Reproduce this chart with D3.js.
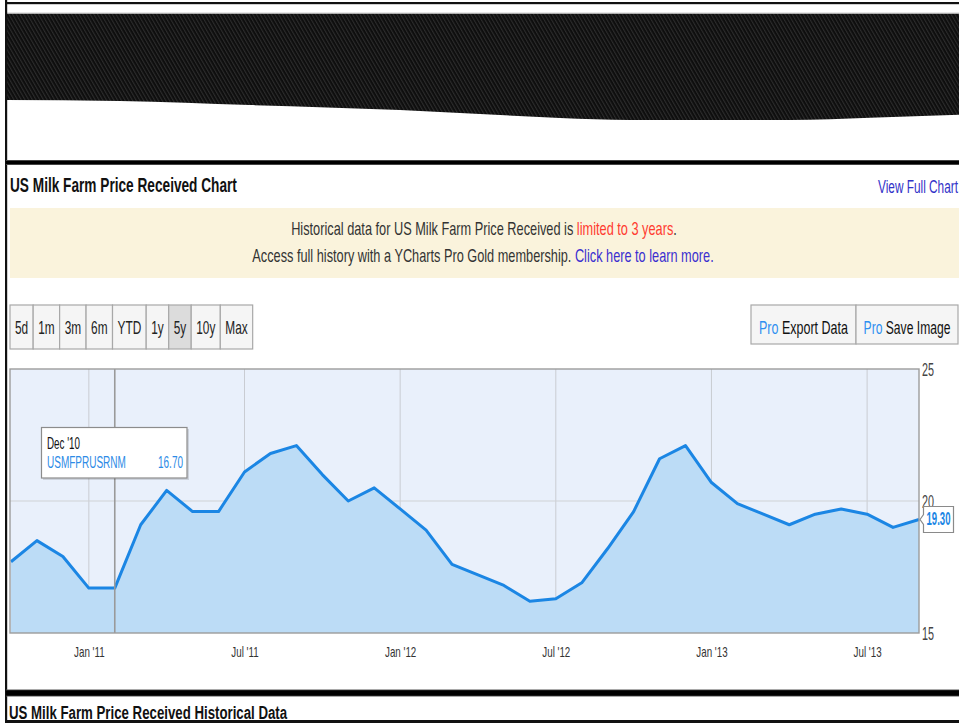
<!DOCTYPE html>
<html>
<head>
<meta charset="utf-8">
<title>US Milk Farm Price Received Chart</title>
<script src="https://cdn.jsdelivr.net/npm/d3@7"></script>
<style>
  html, body { margin: 0; padding: 0; background: #fff; }
  svg { display: block; font-family: "Liberation Sans", Arial, sans-serif; }
</style>
</head>
<body>
<svg id="page" width="959" height="723"></svg>
<script>
// ---- data ----
const months = d3.timeMonth.range(new Date(2010, 9, 1), new Date(2013, 9, 1)); // Oct 2010 .. Sep 2013
const milkPrice = [17.7, 18.5, 17.9, 16.7, 16.7, 19.1, 20.4, 19.6, 19.6, 21.1, 21.8, 22.1,
                   21.0, 20.0, 20.5, 19.7, 18.9, 17.6, 17.2, 16.8, 16.2, 16.3, 16.9, 18.2,
                   19.6, 21.6, 22.1, 20.7, 19.9, 19.5, 19.1, 19.5, 19.7, 19.5, 19.0, 19.3];
const tickLabels = ["Jan '11", "Jul '11", "Jan '12", "Jul '12", "Jan '13", "Jul '13"];
const yTicks = [15, 20, 25];
const rangeButtons = ["5d", "1m", "3m", "6m", "YTD", "1y", "5y", "10y", "Max"];
const activeRange = "5y";
const seriesCode = "USMFPRUSRNM";
const hoverIndex = 4;
const hoverLabel = "Dec '10";

const svg = d3.select("#page");
const SX = 0.65; // horizontal squeeze of the condensed page typography

// Text helper: parts = [[string, colour], ...]; squeezed horizontally by k or to a target width
function label(parent, x, y, parts, o = {}) {
  const t = parent.append("text")
    .attr("font-size", o.size || 16)
    .attr("font-weight", o.weight || "normal")
    .attr("text-anchor", o.anchor || "start");
  parts.forEach(([s, c]) => t.append("tspan").attr("fill", c).text(s));
  const len = t.node().getComputedTextLength();
  const k = o.width ? o.width / len : (o.k || SX);
  t.attr("transform", `translate(${x},${y}) scale(${k},1)`);
  t.k = k;
  t.w = len * k;
  return t;
}

// ---- page frame ----
const defs = svg.append("defs");
const hatch = defs.append("pattern")
  .attr("id", "hatch").attr("patternUnits", "userSpaceOnUse")
  .attr("width", 3.2).attr("height", 3.2)
  .attr("patternTransform", "rotate(-30)");
hatch.append("rect").attr("width", 3.2).attr("height", 3.2).attr("fill", "#0e0e0e");
hatch.append("rect").attr("width", 1.1).attr("height", 3.2).attr("fill", "#2c2c2c");

// dark hatched masthead with a curved lower edge
const waveEdge = [[6, 100], [120, 101], [250, 105], [400, 110], [480, 114], [560, 118],
                  [630, 120], [790, 120], [870, 117.7], [959, 114.7]];
const waveLine = d3.line().curve(d3.curveMonotoneX);
const waveD = "M959,13.5 L6,13.5 L" + waveLine(waveEdge).slice(1) + " Z";
svg.append("path").attr("d", waveD).attr("fill", "url(#hatch)");
svg.append("line").attr("x1", 6).attr("x2", 959).attr("y1", 13).attr("y2", 13)
  .attr("stroke", "#cfcfcf").attr("stroke-width", 1);

svg.append("rect").attr("x", 5).attr("y", 2).attr("width", 954).attr("height", 2.2).attr("fill", "#111");
svg.append("rect").attr("x", 5).attr("y", 0).attr("width", 2.2).attr("height", 723).attr("fill", "#111");
svg.append("rect").attr("x", 6).attr("y", 160).attr("width", 953).attr("height", 5).attr("fill", "#555");
svg.append("rect").attr("x", 6).attr("y", 160.8).attr("width", 953).attr("height", 3.4).attr("fill", "#000");

// ---- header ----
const head = svg.append("g");
const titleText = label(head, 10, 192, [["US Milk Farm Price Received Chart", "#111"]],
  { size: 19.5, weight: "bold", width: 227 });
label(head, 958, 193, [["View Full Chart", "#3232c8"]], { size: 18.5, anchor: "end", width: 80 });

// notice banner
head.append("rect").attr("x", 10).attr("y", 208).attr("width", 949).attr("height", 70).attr("fill", "#faf3dc");
label(head, 484, 234.5, [
  ["Historical data for US Milk Farm Price Received is ", "#333"],
  ["limited to 3 years", "#ff3b30"],
  [".", "#333"]
], { size: 18, anchor: "middle", width: 386 });
label(head, 483, 262, [
  ["Access full history with a YCharts Pro Gold membership. ", "#333"],
  ["Click here to learn more.", "#3a2fd0"]
], { size: 18, anchor: "middle", width: 462 });

// ---- range buttons ----
const btnG = svg.append("g");
let bx = 10;
rangeButtons.forEach(name => {
  const g = btnG.append("g");
  const r = g.append("rect").attr("y", 305).attr("height", 44)
    .attr("fill", name === activeRange ? "#dcdcdc" : "#f5f5f5")
    .attr("stroke", "#a8a8a8").attr("stroke-width", 1.2);
  const t = label(g, 0, 334, [[name, "#222"]], { size: 18.5, anchor: "middle", k: 0.64 });
  const w = t.w + 10;
  r.attr("x", bx).attr("width", w);
  t.attr("transform", `translate(${bx + w / 2},334) scale(${t.k},1)`);
  bx += w;
});

// export / save buttons
const proG = svg.append("g");
[["Export Data", 751, 856, 89], ["Save Image", 856, 958, 87]].forEach(([name, x0, x1, tw]) => {
  proG.append("rect").attr("x", x0).attr("y", 305).attr("width", x1 - x0).attr("height", 39)
    .attr("fill", "#f5f5f5").attr("stroke", "#a8a8a8").attr("stroke-width", 1.2);
  label(proG, (x0 + x1) / 2, 334, [["Pro ", "#2f8ff0"], [name, "#111"]],
    { size: 18.5, anchor: "middle", width: tw });
});

// ---- chart ----
const plot = { left: 10, right: 919, top: 369, bottom: 633 };
const x = d3.scalePoint().domain(months).range([11, plot.right]);
const y = d3.scaleLinear().domain([15, 25]).range([plot.bottom, plot.top]);
const tickMonths = months.filter(m => m.getMonth() % 6 === 0);

const chart = svg.append("g");
chart.append("rect")
  .attr("x", plot.left).attr("y", plot.top)
  .attr("width", plot.right - plot.left).attr("height", plot.bottom - plot.top)
  .attr("fill", "#e9f0fb");

// gridlines
chart.append("g").selectAll("line").data(tickMonths).join("line")
  .attr("x1", d => x(d)).attr("x2", d => x(d))
  .attr("y1", plot.top).attr("y2", plot.bottom)
  .attr("stroke", "#c9ccd2").attr("stroke-width", 1);
chart.append("g").selectAll("line").data(yTicks.slice(1, -1)).join("line")
  .attr("x1", plot.left).attr("x2", plot.right)
  .attr("y1", d => y(d)).attr("y2", d => y(d))
  .attr("stroke", "#cfd1d5").attr("stroke-width", 1.2);

// area + line
const series = months.map((m, i) => ({ m, v: milkPrice[i] }));
chart.append("path").datum(series)
  .attr("d", d3.area().x(d => x(d.m)).y0(plot.bottom).y1(d => y(d.v)))
  .attr("fill", "#bcdcf6");
chart.append("path").datum(series)
  .attr("d", d3.line().x(d => x(d.m)).y(d => y(d.v)))
  .attr("fill", "none").attr("stroke", "#1b86e4").attr("stroke-width", 3)
  .attr("stroke-linejoin", "round");

// hover cursor
const hx = x(months[hoverIndex]);
chart.append("line").attr("x1", hx).attr("x2", hx).attr("y1", plot.top).attr("y2", plot.bottom)
  .attr("stroke", "#9a9a9a").attr("stroke-width", 1.6);

// frame
chart.append("rect")
  .attr("x", plot.left).attr("y", plot.top)
  .attr("width", plot.right - plot.left).attr("height", plot.bottom - plot.top)
  .attr("fill", "none").attr("stroke", "#9c9c9c").attr("stroke-width", 1.4);

// x axis
const xAxis = chart.append("g").attr("transform", `translate(0,${plot.bottom})`)
  .call(d3.axisBottom(x).tickValues(tickMonths).tickFormat((d, i) => tickLabels[i])
    .tickSize(0).tickPadding(0));
xAxis.select(".domain").remove();
xAxis.selectAll("text")
  .attr("y", null).attr("dy", null)
  .attr("font-family", "Liberation Sans, Arial, sans-serif")
  .attr("font-size", 14).attr("fill", "#333")
  .attr("transform", "translate(0,23.5) scale(0.7,1)");

// y axis on the right
const yAxis = chart.append("g").attr("transform", `translate(${plot.right},0)`)
  .call(d3.axisRight(y).tickValues(yTicks).tickSize(0).tickPadding(0));
yAxis.select(".domain").remove();
yAxis.selectAll("text")
  .attr("x", null).attr("dy", null)
  .attr("font-family", "Liberation Sans, Arial, sans-serif")
  .attr("font-size", 18).attr("fill", "#444")
  .attr("transform", "translate(3,6.5) scale(0.6,1)");

// last value flag
const last = series[series.length - 1];
const fx = x(last.m) + 1, fy = y(last.v);
const flag = chart.append("g");
flag.append("path")
  .attr("d", `M${fx},${fy} L${fx + 3.5},${fy - 5} L${fx + 3.5},${fy - 13} L${fx + 33.5},${fy - 13}
              L${fx + 33.5},${fy + 13} L${fx + 3.5},${fy + 13} L${fx + 3.5},${fy + 5} Z`)
  .attr("fill", "#fff").attr("stroke", "#8a8a8a").attr("stroke-width", 1.2);
label(flag, fx + 18.5, fy + 6, [[d3.format(".2f")(last.v), "#1b86e4"]],
  { size: 17.5, weight: "bold", anchor: "middle", width: 24 });

// hover tooltip
const tip = chart.append("g");
tip.append("rect").attr("x", 43).attr("y", 429).attr("width", 146).attr("height", 51)
  .attr("fill", "#000").attr("opacity", 0.12);
tip.append("rect").attr("x", 41.5).attr("y", 427.5).attr("width", 145.5).attr("height", 50.5)
  .attr("fill", "#fff").attr("stroke", "#8c8c8c").attr("stroke-width", 1.2);
label(tip, 47, 449, [[hoverLabel, "#111"]], { size: 16, width: 33 });
label(tip, 47, 467.5, [[seriesCode, "#2d8be6"]], { size: 16.5, width: 79 });
label(tip, 183, 467.5, [[d3.format(".2f")(milkPrice[hoverIndex]), "#2d8be6"]],
  { size: 16.5, anchor: "end", width: 25 });

// ---- lower section ----
svg.append("rect").attr("x", 6).attr("y", 689.5).attr("width", 953).attr("height", 7).attr("fill", "#555");
svg.append("rect").attr("x", 6).attr("y", 690.3).attr("width", 953).attr("height", 5.4).attr("fill", "#000");
label(svg, 9, 718.5, [["US Milk Farm Price Received Historical Data", "#111"]],
  { size: 18, weight: "bold", k: titleText.k * 1.05 });
svg.append("rect").attr("x", 5).attr("y", 720).attr("width", 954).attr("height", 3).attr("fill", "#111");
</script>
</body>
</html>
